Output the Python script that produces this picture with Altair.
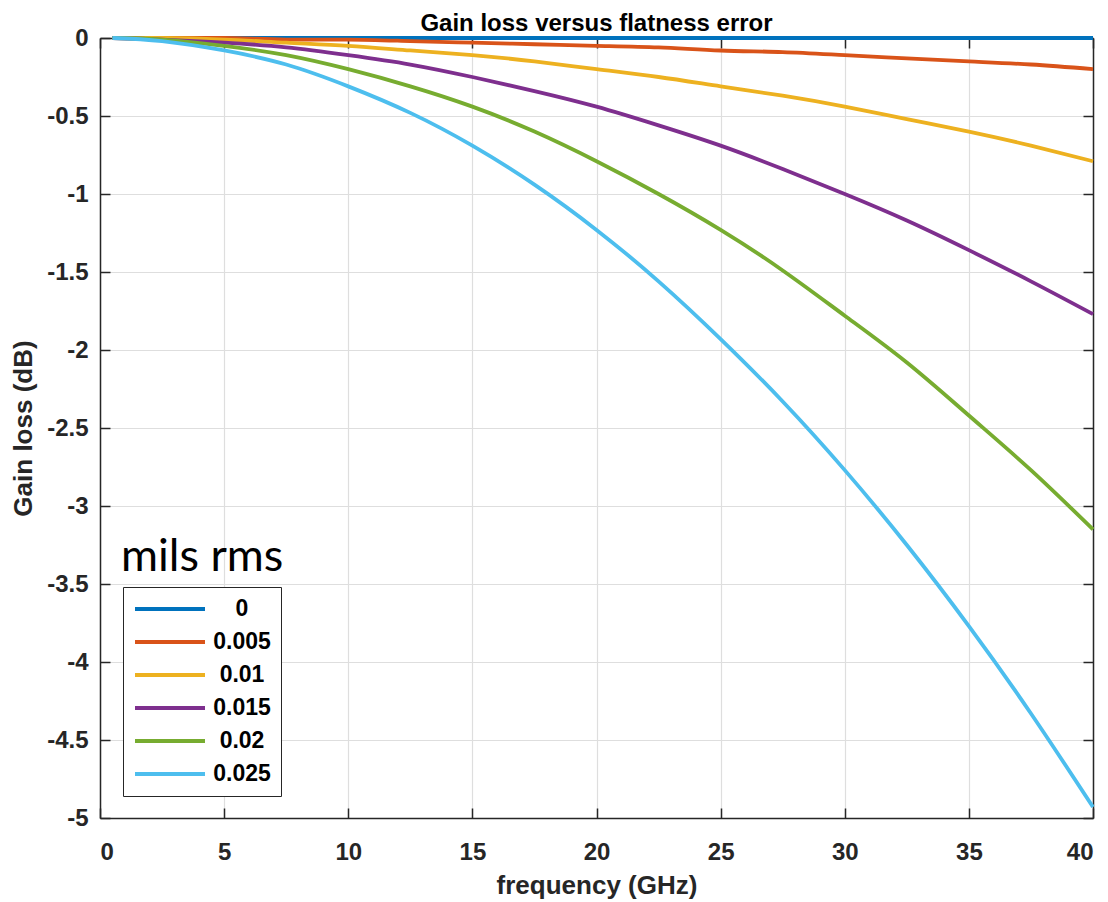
import altair as alt
import pandas as pd

freq = [0.5, 2.5, 5, 7.5, 10, 12.5, 15, 17.5, 20, 22.5, 25, 27.5, 30, 32.5, 35, 37.5, 40]
series_names = ["0", "0.005", "0.01", "0.015", "0.02", "0.025"]
loss_0 = [0] * 17
loss_0005 = [0, 0, 0, -0.01, -0.01, -0.02, -0.03, -0.04, -0.05, -0.06, -0.08, -0.09, -0.11, -0.13, -0.15, -0.17, -0.20]
loss_001 = [0, 0, -0.01, -0.03, -0.05, -0.08, -0.11, -0.15, -0.20, -0.25, -0.31, -0.37, -0.44, -0.52, -0.60, -0.69, -0.79]
loss_0015 = [0, -0.01, -0.03, -0.06, -0.11, -0.17, -0.25, -0.34, -0.44, -0.56, -0.69, -0.84, -1.00, -1.17, -1.36, -1.56, -1.77]
loss_002 = [0, -0.01, -0.05, -0.11, -0.20, -0.31, -0.44, -0.60, -0.79, -1.00, -1.23, -1.49, -1.78, -2.08, -2.42, -2.77, -3.15]
loss_0025 = [0, -0.02, -0.08, -0.17, -0.31, -0.48, -0.69, -0.94, -1.23, -1.56, -1.93, -2.33, -2.77, -3.25, -3.77, -4.33, -4.93]
colors = ["#0072BD", "#D95319", "#EDB120", "#7E2F8E", "#77AC30", "#4DBEEE"]
x_ticks = [0, 5, 10, 15, 20, 25, 30, 35, 40]
y_ticks = [0, -0.5, -1, -1.5, -2, -2.5, -3, -3.5, -4, -4.5, -5]

rows = []
for name, vals in zip(series_names, [loss_0, loss_0005, loss_001, loss_0015, loss_002, loss_0025]):
    for f, v in zip(freq, vals):
        rows.append({"freq": f, "loss": v, "series": name})
df = pd.DataFrame(rows)

FONT = "Liberation Sans"
AX = "#262626"
W, H = 993, 780

xscale = alt.Scale(domain=[0, 40], nice=False)
yscale = alt.Scale(domain=[-5, 0], nice=False)

common_axis = dict(
    domainColor=AX, domainWidth=1.5, tickColor=AX, tickWidth=1.5,
    tickSize=alt.expr("-10"), labelFont=FONT, labelFontWeight="bold",
    labelFontSize=24, labelColor=AX, titleFont=FONT, titleFontWeight="bold",
    titleFontSize=26, titleColor=AX,
)

x_bottom = alt.Axis(values=x_ticks, orient="bottom", grid=True, gridColor="#dedede",
                    gridWidth=1.2, labelPadding=32, title="frequency (GHz)", titlePadding=8,
                    **common_axis)
y_left = alt.Axis(values=y_ticks, orient="left", grid=True, gridColor="#dedede",
                  gridWidth=1.2, labelPadding=22, title="Gain loss (dB)", titlePadding=10,
                  labelExpr="datum.value == 0 ? '0' : '' + datum.value",
                  **common_axis)

lines = alt.Chart(df).mark_line(strokeWidth=3.8, interpolate="natural").encode(
    x=alt.X("freq:Q", scale=xscale, axis=x_bottom),
    y=alt.Y("loss:Q", scale=yscale, axis=y_left),
    color=alt.Color(
        "series:N",
        scale=alt.Scale(domain=series_names, range=colors),
        sort=series_names,
        legend=alt.Legend(
            orient="none", legendX=23, legendY=549, title=None,
            symbolType="M-1,0H6", symbolSize=400, symbolStrokeWidth=4,
            labelFont=FONT, labelFontWeight="bold", labelFontSize=23, labelColor="black",
            labelAlign="center", labelOffset=85,
            strokeColor=AX, fillColor="white", padding=10, rowPadding=9,
        ),
    ),
)

x_top = alt.Axis(values=x_ticks, orient="top", grid=False, labels=False, title=None,
                 domainColor=AX, domainWidth=1.5, tickColor=AX, tickWidth=1.5, tickSize=alt.expr("-10"))
y_right = alt.Axis(values=y_ticks, orient="right", grid=False, labels=False, title=None,
                   domainColor=AX, domainWidth=1.5, tickColor=AX, tickWidth=1.5, tickSize=alt.expr("-10"))

frame = alt.Chart(pd.DataFrame({"freq": [0], "loss": [0]})).mark_point(opacity=0).encode(
    x=alt.X("freq:Q", scale=xscale, axis=x_top),
    y=alt.Y("loss:Q", scale=yscale, axis=y_right),
)

annot = alt.Chart(pd.DataFrame({"t": ["mils rms"]})).mark_text(
    font="Lato", fontSize=45, align="left", baseline="alphabetic", color="black"
).encode(text="t:N", x=alt.value(21), y=alt.value(533))

chart = alt.layer(frame, lines, annot).resolve_axis(x="independent", y="independent").properties(
    width=W, height=H,
    title=alt.TitleParams("Gain loss versus flatness error", font=FONT, fontSize=24,
                          fontWeight="bold", color="black", offset=-10),
    autosize=alt.AutoSizeParams(type="none"),
    padding={"left": 92, "top": 30, "right": 7, "bottom": 100},
).configure_view(stroke=None)

chart.save("out.html", embed_options={"renderer": "svg", "actions": False})
